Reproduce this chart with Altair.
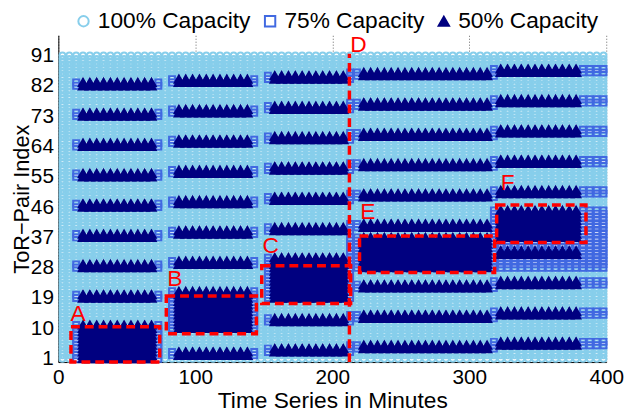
import altair as alt
import pandas as pd

FONT = "Liberation Sans"

# ---- data ----
times = list(range(3, 400, 5))          # sampling instants (minutes)
pairs = list(range(1, 92))              # ToR-pair indices
caps = ["100% Capacity", "75% Capacity", "50% Capacity"]

# phases A, B, C, E, F
phase_sq_start = [13, 83, 153, 213, 318]
phase_tri_start = [18, 88, 158, 223, 323]
phase_tri_end = [68, 138, 208, 313, 378]
phase_sq_end = [73, 143, 213, 318, 398]
phase_rows = [
    [83, 74, 65, 56, 47, 38, 29, 20],
    [84, 75, 66, 57, 48, 39, 30, 3],
    [85, 76, 67, 58, 49, 40, 13, 4],
    [86, 77, 68, 59, 50, 41, 23, 14, 5],
    [87, 78, 69, 60, 51, 33, 24, 15, 6],
]
block_lo = [1, 10, 19, 28, 37]
block_hi = [11, 21, 31, 37, 45]
reduced_lo, reduced_hi, reduced_from = 28, 36, 318

# annotation boxes
box_names = ["A", "B", "C", "E", "F"]
box_t0 = [9.2, 78.8, 148.5, 219.9, 320.0]
box_t1 = [74.0, 144.6, 213.4, 318.5, 385.2]
box_p0 = [0.0, 8.4, 17.4, 26.6, 35.5]
box_p1 = [10.5, 19.6, 28.6, 37.4, 46.6]
d_line_t, d_line_p0, d_line_p1 = 212.5, 0.0, 91.5

label_names = ["A", "B", "C", "D", "E", "F"]
label_t = [14.4, 85.0, 155.0, 219.0, 226.0, 328.0]
label_p = [14.1, 24.6, 34.4, 94.1, 44.4, 53.0]

x_ticks = [0, 100, 200, 300, 400]
y_ticks = [1, 10, 19, 28, 37, 46, 55, 64, 73, 82, 91]

# ---- build the status table ----
status = {(t, p): 0 for t in times for p in pairs}
for i in range(5):
    active = set(range(block_lo[i], block_hi[i] + 1))
    for r in phase_rows[i]:
        active |= {r, r - 1}
    for t in times:
        if phase_sq_start[i] <= t <= phase_sq_end[i]:
            lvl = 2 if phase_tri_start[i] <= t <= phase_tri_end[i] else 1
            for p in active:
                status[(t, p)] = max(status[(t, p)], lvl)
for t in times:
    if t >= reduced_from:
        for p in range(reduced_lo, reduced_hi + 1):
            status[(t, p)] = max(status[(t, p)], 1)

rows = [{"t": t, "p": p, "lvl": s, "cap": caps[s]} for (t, p), s in status.items()]
df = pd.DataFrame(rows).sort_values(["lvl", "t", "p"]).reset_index(drop=True)

boxes = pd.DataFrame({"name": box_names, "t": box_t0, "t_end": box_t1,
                      "p": box_p0, "p_end": box_p1})
dline = pd.DataFrame({"t": [d_line_t], "p": [d_line_p0], "p_end": [d_line_p1]})
labels = pd.DataFrame({"name": label_names, "t": label_t, "p": label_p})


def X(field="t"):
    return alt.X(f"{field}:Q", title="Time Series in Minutes",
                 scale=alt.Scale(domain=[0, 400], nice=False, zero=False),
                 axis=alt.Axis(values=x_ticks, grid=True, gridDash=[1, 2],
                               gridColor="#666666", gridWidth=1, ticks=False,
                               labelFlush=False,
                               labelFontSize=21, titleFontSize=23, labelPadding=5,
                               titlePadding=2, domainColor="black", labelColor="black",
                               titleColor="black", labelFont=FONT, titleFont=FONT,
                               titleFontWeight="normal"))


def Y(field="p"):
    return alt.Y(f"{field}:Q", title="ToR\u2212Pair Index",
                 scale=alt.Scale(domain=[0, 97], nice=False, zero=False),
                 axis=alt.Axis(values=y_ticks, grid=False, ticks=False,
                               labelFlush=False,
                               labelFontSize=21, titleFontSize=22, labelPadding=5,
                               titleX=-37, titleY=165.5, titleAngle=270,
                               titleAlign="center", titleBaseline="middle",
                               domainColor="black", labelColor="black",
                               titleColor="black", labelFont=FONT, titleFont=FONT,
                               titleFontWeight="normal"))


leg = alt.Legend(orient="none", legendX=14, legendY=-26, direction="horizontal",
                 labelFontSize=23, labelFont=FONT, labelColor="black",
                 symbolSize=110, symbolStrokeWidth=2, labelOffset=3,
                 columnPadding=8, padding=0)

pts = alt.Chart(df).mark_point(filled=False, strokeWidth=2, opacity=1).encode(
    x=X(), y=Y(),
    color=alt.Color("cap:N", title=None, legend=leg,
                    scale=alt.Scale(domain=caps, range=["#87CEEB", "#4169E1", "#000080"])),
    fill=alt.Fill("cap:N", title=None, legend=leg,
                  scale=alt.Scale(domain=caps, range=["transparent", "transparent", "#000080"])),
    shape=alt.Shape("cap:N", title=None, legend=leg,
                    scale=alt.Scale(domain=caps, range=["circle", "square", "triangle-up"])),
    size=alt.condition("datum.lvl == 2", alt.value(72), alt.value(36)),
)

box_layer = alt.Chart(boxes).mark_rect(fillOpacity=0, stroke="#FF0000", strokeWidth=3.5,
                                       strokeDash=[9, 5]).encode(
    x=X(), x2="t_end:Q", y=Y(), y2="p_end:Q")

d_layer = alt.Chart(dline).mark_rule(color="#FF0000", strokeWidth=3.5,
                                     strokeDash=[9, 5]).encode(
    x=X(), y=Y(), y2="p_end:Q")

txt = alt.Chart(labels).mark_text(color="#FF0000", fontSize=23, font=FONT,
                                  align="center", baseline="middle").encode(
    x=X(), y=Y(), text="name:N")

chart = alt.layer(pts, box_layer, d_layer, txt).properties(
    width=555, height=331,
    autosize=alt.AutoSizeParams(type="none"),
    padding={"left": 51, "top": 25, "right": 18, "bottom": 53},
).configure_view(stroke=None)

chart.save("out.html", embed_options={"renderer": "svg", "actions": False})
